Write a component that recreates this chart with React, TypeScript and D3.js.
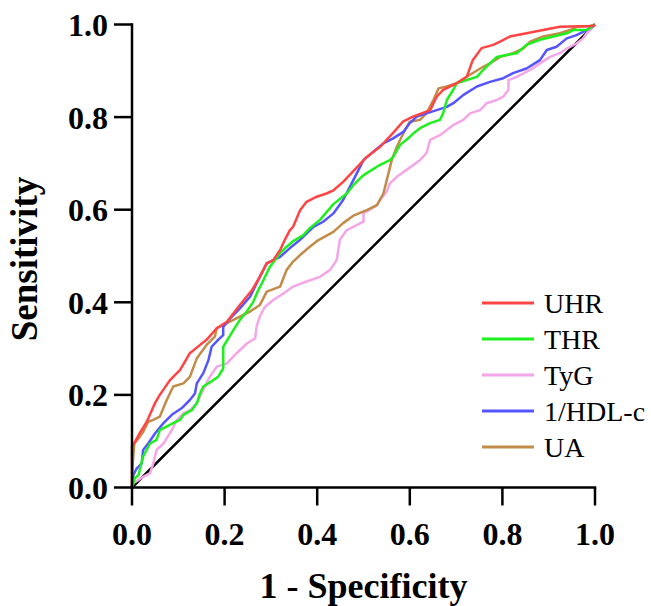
import React from "react";
import * as d3 from "d3";

const ticks = [0, 0.2, 0.4, 0.6, 0.8, 1.0];
const seriesNames = ["UHR", "THR", "TyG", "1/HDL-c", "UA"];
const seriesColors = ["#FF4444", "#1EF01E", "#F4A6E8", "#5555FF", "#C38B48"];

const uhrFpr = [0, 0, 0.005, 0.017, 0.032, 0.05, 0.06, 0.082, 0.104, 0.125, 0.147, 0.161, 0.183, 0.205, 0.233, 0.259, 0.276, 0.291, 0.305, 0.32, 0.33, 0.341, 0.348, 0.363, 0.377, 0.399, 0.42, 0.434, 0.456, 0.477, 0.507, 0.536, 0.564, 0.585, 0.607, 0.644, 0.658, 0.672, 0.701, 0.723, 0.736, 0.755, 0.78, 0.795, 0.816, 0.852, 0.888, 0.924, 0.996, 1];
const uhrTpr = [0, 0.09, 0.096, 0.118, 0.142, 0.183, 0.2, 0.232, 0.254, 0.29, 0.308, 0.319, 0.344, 0.358, 0.394, 0.426, 0.455, 0.484, 0.491, 0.513, 0.535, 0.556, 0.563, 0.599, 0.617, 0.628, 0.635, 0.641, 0.66, 0.682, 0.714, 0.736, 0.766, 0.79, 0.801, 0.815, 0.844, 0.859, 0.873, 0.887, 0.923, 0.949, 0.956, 0.963, 0.974, 0.981, 0.988, 0.995, 0.997, 1];

const thrFpr = [0, 0.003, 0.006, 0.014, 0.024, 0.039, 0.053, 0.06, 0.089, 0.104, 0.111, 0.129, 0.14, 0.147, 0.154, 0.176, 0.186, 0.197, 0.197, 0.219, 0.233, 0.248, 0.262, 0.273, 0.284, 0.298, 0.32, 0.334, 0.348, 0.37, 0.384, 0.406, 0.435, 0.464, 0.478, 0.496, 0.507, 0.536, 0.557, 0.564, 0.579, 0.593, 0.608, 0.622, 0.644, 0.665, 0.672, 0.68, 0.694, 0.701, 0.723, 0.745, 0.755, 0.766, 0.788, 0.809, 0.831, 0.852, 0.881, 0.91, 0.939, 0.953, 0.982, 1];
const thrTpr = [0, 0.009, 0.02, 0.027, 0.067, 0.095, 0.103, 0.124, 0.139, 0.146, 0.157, 0.167, 0.182, 0.203, 0.218, 0.232, 0.239, 0.257, 0.304, 0.34, 0.362, 0.38, 0.401, 0.427, 0.448, 0.477, 0.506, 0.52, 0.532, 0.545, 0.56, 0.578, 0.612, 0.635, 0.653, 0.671, 0.679, 0.697, 0.707, 0.714, 0.74, 0.751, 0.765, 0.776, 0.787, 0.794, 0.808, 0.837, 0.859, 0.873, 0.88, 0.887, 0.898, 0.909, 0.93, 0.934, 0.938, 0.956, 0.967, 0.974, 0.981, 0.988, 0.988, 1];

const tygFpr = [0, 0.003, 0.024, 0.039, 0.046, 0.053, 0.068, 0.086, 0.097, 0.111, 0.125, 0.14, 0.154, 0.168, 0.183, 0.205, 0.226, 0.248, 0.266, 0.269, 0.276, 0.287, 0.305, 0.327, 0.348, 0.377, 0.406, 0.428, 0.442, 0.449, 0.464, 0.5, 0.5, 0.529, 0.536, 0.55, 0.557, 0.572, 0.593, 0.622, 0.636, 0.644, 0.665, 0.68, 0.694, 0.716, 0.73, 0.752, 0.766, 0.788, 0.802, 0.813, 0.813, 0.831, 0.86, 0.881, 0.903, 0.924, 0.939, 0.96, 0.974, 0.982, 1];
const tygTpr = [0, 0.009, 0.023, 0.031, 0.052, 0.081, 0.095, 0.124, 0.146, 0.16, 0.167, 0.182, 0.211, 0.239, 0.261, 0.268, 0.29, 0.311, 0.322, 0.347, 0.369, 0.39, 0.405, 0.419, 0.434, 0.445, 0.455, 0.47, 0.491, 0.535, 0.556, 0.574, 0.592, 0.61, 0.621, 0.639, 0.657, 0.671, 0.686, 0.707, 0.722, 0.751, 0.761, 0.772, 0.783, 0.794, 0.808, 0.815, 0.83, 0.837, 0.844, 0.859, 0.88, 0.887, 0.902, 0.916, 0.93, 0.938, 0.948, 0.959, 0.97, 0.981, 1];

const hdlFpr = [0, 0.003, 0.01, 0.021, 0.024, 0.035, 0.05, 0.068, 0.086, 0.107, 0.125, 0.136, 0.14, 0.154, 0.165, 0.172, 0.186, 0.197, 0.197, 0.212, 0.233, 0.255, 0.276, 0.291, 0.32, 0.341, 0.363, 0.392, 0.413, 0.435, 0.456, 0.478, 0.5, 0.521, 0.543, 0.564, 0.586, 0.6, 0.615, 0.636, 0.658, 0.68, 0.694, 0.716, 0.745, 0.773, 0.802, 0.823, 0.852, 0.881, 0.896, 0.917, 0.939, 0.96, 0.982, 1];
const hdlTpr = [0, 0.027, 0.041, 0.052, 0.081, 0.095, 0.117, 0.139, 0.157, 0.171, 0.189, 0.203, 0.225, 0.247, 0.275, 0.304, 0.319, 0.329, 0.347, 0.365, 0.387, 0.412, 0.455, 0.484, 0.498, 0.517, 0.535, 0.563, 0.574, 0.592, 0.621, 0.664, 0.707, 0.725, 0.743, 0.754, 0.768, 0.787, 0.801, 0.808, 0.815, 0.822, 0.83, 0.848, 0.866, 0.876, 0.884, 0.895, 0.905, 0.923, 0.945, 0.952, 0.97, 0.977, 0.988, 1];

const uaFpr = [0, 0.001, 0.005, 0.014, 0.024, 0.035, 0.046, 0.06, 0.075, 0.089, 0.111, 0.125, 0.14, 0.161, 0.179, 0.183, 0.194, 0.205, 0.233, 0.255, 0.276, 0.291, 0.32, 0.334, 0.348, 0.363, 0.384, 0.399, 0.435, 0.456, 0.478, 0.507, 0.529, 0.543, 0.554, 0.561, 0.572, 0.586, 0.6, 0.622, 0.636, 0.651, 0.662, 0.68, 0.701, 0.723, 0.752, 0.773, 0.795, 0.823, 0.845, 0.86, 0.888, 0.924, 0.946, 0.96, 0.989, 1];
const uaTpr = [0, 0.045, 0.095, 0.106, 0.12, 0.142, 0.146, 0.153, 0.189, 0.218, 0.225, 0.239, 0.279, 0.308, 0.326, 0.344, 0.349, 0.355, 0.369, 0.38, 0.394, 0.423, 0.434, 0.47, 0.488, 0.502, 0.52, 0.532, 0.552, 0.571, 0.587, 0.599, 0.61, 0.635, 0.679, 0.707, 0.736, 0.765, 0.79, 0.794, 0.808, 0.837, 0.862, 0.866, 0.873, 0.887, 0.905, 0.916, 0.93, 0.938, 0.948, 0.963, 0.974, 0.981, 0.988, 0.995, 0.997, 1];

const seriesFpr = [uhrFpr, thrFpr, tygFpr, hdlFpr, uaFpr];
const seriesTpr = [uhrTpr, thrTpr, tygTpr, hdlTpr, uaTpr];

const W = 651;
const H = 606;
const left = 132;
const right = 595;
const top = 24.5;
const bottom = 487.5;
const font = "'Liberation Serif', 'Times New Roman', serif";

export default function App() {
  const x = d3.scaleLinear().domain([0, 1]).range([left, right]);
  const y = d3.scaleLinear().domain([0, 1]).range([bottom, top]);
  const line = d3
    .line<[number, number]>()
    .x((d) => x(d[0]))
    .y((d) => y(d[1]));
  const drawOrder = [2, 4, 3, 1, 0];
  const tickLen = 18;

  return (
    <svg
      width={W}
      height={H}
      style={{ position: "absolute", left: 0, top: 0, background: "#fff" }}
      fontFamily={font}
    >
      <rect x={0} y={0} width={W} height={H} fill="#fff" />
      {/* diagonal reference */}
      <path d={line([[0, 0], [1, 1]]) || ""} stroke="#000" strokeWidth={2.5} fill="none" />
      {drawOrder.map((i) => {
        const pts: [number, number][] = seriesFpr[i].map((f, k) => [f, seriesTpr[i][k]]);
        return (
          <path
            key={seriesNames[i]}
            d={line(pts) || ""}
            stroke={seriesColors[i]}
            strokeWidth={2.5}
            fill="none"
            strokeLinejoin="round"
          />
        );
      })}
      {/* axes */}
      <line x1={left} x2={left} y1={top - 1.25} y2={bottom + 1.25} stroke="#000" strokeWidth={2.5} />
      <line x1={left - 1.25} x2={right + 1.25} y1={bottom} y2={bottom} stroke="#000" strokeWidth={2.5} />
      {ticks.map((t) => (
        <g key={"y" + t}>
          <line x1={left - tickLen} x2={left} y1={y(t)} y2={y(t)} stroke="#000" strokeWidth={2.5} />
          <text
            x={left - 24}
            y={y(t) + 11.5}
            textAnchor="end"
            fontSize={32}
            fontWeight="bold"
          >
            {t.toFixed(1)}
          </text>
        </g>
      ))}
      {ticks.map((t) => (
        <g key={"x" + t}>
          <line x1={x(t)} x2={x(t)} y1={bottom} y2={bottom + tickLen} stroke="#000" strokeWidth={2.5} />
          <text x={x(t)} y={545} textAnchor="middle" fontSize={32} fontWeight="bold">
            {t.toFixed(1)}
          </text>
        </g>
      ))}
      <text x={(left + right) / 2} y={598} textAnchor="middle" fontSize={36} fontWeight="bold">
        1 - Specificity
      </text>
      <text
        transform={`translate(37, ${(top + bottom) / 2 + 3}) rotate(-90)`}
        textAnchor="middle"
        fontSize={37}
        fontWeight="bold"
      >
        Sensitivity
      </text>
      {/* legend */}
      {seriesNames.map((n, i) => {
        const ly = 303 + i * 36;
        return (
          <g key={"lg" + n}>
            <line x1={482} x2={534} y1={ly} y2={ly} stroke={seriesColors[i]} strokeWidth={3} />
            <text x={544} y={ly + 9.5} fontSize={28}>
              {n}
            </text>
          </g>
        );
      })}
    </svg>
  );
}
